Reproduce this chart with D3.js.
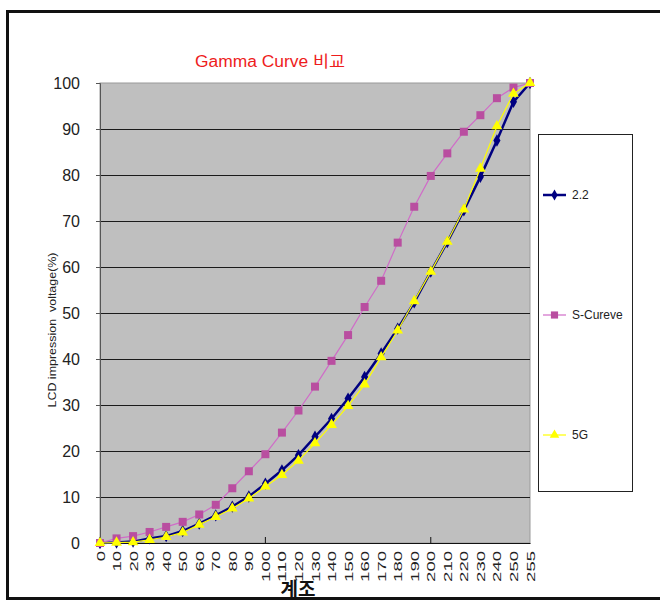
<!DOCTYPE html>
<html>
<head>
<meta charset="utf-8">
<script src="https://cdn.jsdelivr.net/npm/d3@7"></script>
<style>
    body { margin: 0; background: white; }
    svg { display: block; }
</style>
</head>
<body>
<div id="chart"></div>
<script>
//chart data
let categories = ['0', '10', '20', '30', '40', '50', '60', '70', '80', '90', '100', '110', '120', '130',
    '140', '150', '160', '170', '180', '190', '200', '210', '220', '230', '240', '250', '255'];
let gamma22 = [0, 0.1, 0.3, 1.0, 1.5, 2.6, 4.2, 6.0, 7.9, 10.1, 12.9, 15.8, 19.1, 23.1,
    27.0, 31.4, 36.1, 41.2, 46.6, 52.3, 59.0, 65.4, 72.3, 79.6, 87.5, 95.9, 100];
let sCurve = [0, 1.0, 1.5, 2.4, 3.5, 4.6, 6.2, 8.3, 11.9, 15.6, 19.3, 24.0, 28.8, 34.0,
    39.6, 45.2, 51.3, 57.0, 65.3, 73.1, 79.8, 84.7, 89.4, 93.0, 96.7, 99.0, 100];
let fiveG = [0, 0.1, 0.2, 0.7, 1.3, 2.3, 4.0, 5.7, 7.5, 9.7, 12.3, 14.8, 17.9, 21.7,
    25.7, 29.8, 34.5, 40.4, 46.2, 52.6, 59.0, 65.5, 72.5, 81.4, 90.6, 97.7, 100];
let seriesNames = ['2.2', 'S-Cureve', '5G'];
let yTicks = [0, 10, 20, 30, 40, 50, 60, 70, 80, 90, 100];
let xTickMarks = ['0', '100', '200'];

//chart constants
let totalWidth = 660;
let totalHeight = 602;
let plot = { left: 100, right: 530, top: 83, bottom: 543 };
let font = '"Liberation Sans", Arial, sans-serif';
let narrowFont = '"Liberation Sans Narrow", "Liberation Sans", Arial, sans-serif';
let krFont = '"Liberation Sans", "Noto Sans CJK KR", sans-serif';

let svg = d3.select('#chart')
    .append('svg')
    .attr('width', totalWidth)
    .attr('height', totalHeight);

//outer frame
svg.append('rect')
    .attr('x', 7.5)
    .attr('y', 11.5)
    .attr('width', 700)
    .attr('height', 587)
    .style('fill', 'white')
    .style('stroke', '#111')
    .style('stroke-width', 3);

let xScale = d3.scalePoint()
    .domain(categories)
    .range([plot.left, plot.right]);

let yScale = d3.scaleLinear()
    .domain([0, 100])
    .range([plot.bottom, plot.top]);

//plot background
svg.append('rect')
    .attr('x', plot.left)
    .attr('y', plot.top)
    .attr('width', plot.right - plot.left)
    .attr('height', plot.bottom - plot.top)
    .style('fill', '#bfbfbf')
    .style('stroke', '#9a9a9a')
    .style('stroke-width', 1);

//horizontal gridlines
svg.append('g')
    .selectAll('line')
    .data(yTicks.filter(d => d > 0 && d < 100))
    .enter()
    .append('line')
    .attr('x1', plot.left)
    .attr('x2', plot.right)
    .attr('y1', d => Math.round(yScale(d)) + 0.5)
    .attr('y2', d => Math.round(yScale(d)) + 0.5)
    .style('stroke', '#1a1a1a')
    .style('stroke-width', 1);

//y axis
let yAxis = d3.axisLeft(yScale)
    .tickValues(yTicks)
    .tickSize(4)
    .tickPadding(16);

let yAxisG = svg.append('g')
    .attr('transform', `translate(${plot.left}, 0)`)
    .call(yAxis);
yAxisG.select('.domain').style('stroke', '#555');
yAxisG.selectAll('.tick line').style('stroke', '#555');
yAxisG.selectAll('text')
    .style('font-family', narrowFont)
    .style('font-size', '16px')
    .style('fill', '#222');

//x axis: labels for every category, tick marks every 10th
let xAxis = d3.axisBottom(xScale)
    .tickSize(0)
    .tickPadding(0);

let xAxisG = svg.append('g')
    .attr('transform', `translate(0, ${plot.bottom})`)
    .call(xAxis);
xAxisG.select('.domain').style('stroke', '#111');
xAxisG.selectAll('text')
    .attr('transform', 'rotate(-90)')
    .attr('x', -8)
    .attr('y', 0)
    .attr('dy', '0.35em')
    .attr('textLength', d => d.length * 10.3)
    .attr('lengthAdjust', 'spacingAndGlyphs')
    .style('text-anchor', 'end')
    .style('font-family', font)
    .style('font-size', '11.5px')
    .style('fill', '#222');

svg.append('g')
    .selectAll('line')
    .data(xTickMarks)
    .enter()
    .append('line')
    .attr('x1', d => xScale(d))
    .attr('x2', d => xScale(d))
    .attr('y1', plot.bottom - 6)
    .attr('y2', plot.bottom)
    .style('stroke', '#111');

//series definitions
let series = [
    { name: seriesNames[0], values: gamma22, line: '#000080', width: 2.5, fill: '#000080',
      symbol: d3.symbolDiamond, size: 44 },
    { name: seriesNames[1], values: sCurve, line: '#d06cc8', width: 1.2, fill: '#b94ea0',
      symbol: d3.symbolSquare, size: 64 },
    { name: seriesNames[2], values: fiveG, line: '#ffff00', width: 1.2, fill: '#ffff00',
      symbol: d3.symbolTriangle, size: 50 }
];

let line = d3.line()
    .x((d, i) => xScale(categories[i]))
    .y(d => yScale(d));

series.forEach(function(s) {
    let g = svg.append('g');
    g.append('path')
        .datum(s.values)
        .attr('d', line)
        .style('fill', 'none')
        .style('stroke', s.line)
        .style('stroke-width', s.width);
    g.selectAll('path.marker')
        .data(s.values)
        .enter()
        .append('path')
        .attr('class', 'marker')
        .attr('transform', (d, i) => `translate(${xScale(categories[i])}, ${yScale(d)})`)
        .attr('d', d3.symbol().type(s.symbol).size(s.size))
        .style('fill', s.fill);
});

//title
svg.append('text')
    .attr('x', 270)
    .attr('y', 67)
    .attr('text-anchor', 'middle')
    .attr('textLength', 150)
    .attr('lengthAdjust', 'spacingAndGlyphs')
    .style('font-family', krFont)
    .style('font-size', '16px')
    .style('fill', '#ee1c1c')
    .text('Gamma Curve 비교');

//y axis title (double space kept as in the original)
svg.append('text')
    .attr('transform', 'translate(56, 330) rotate(-90)')
    .attr('text-anchor', 'middle')
    .attr('textLength', 155)
    .attr('lengthAdjust', 'spacingAndGlyphs')
    .style('white-space', 'pre')
    .style('font-family', font)
    .style('font-size', '11px')
    .style('fill', '#222')
    .text('LCD impression  voltage(%)');

//x axis title
svg.append('text')
    .attr('x', 298)
    .attr('y', 596)
    .attr('text-anchor', 'middle')
    .style('font-family', '"Noto Sans CJK KR", sans-serif')
    .style('font-size', '19px')
    .style('font-weight', 'bold')
    .style('fill', '#111')
    .text('계조');

//legend
svg.append('rect')
    .attr('x', 538.5)
    .attr('y', 134.5)
    .attr('width', 94)
    .attr('height', 357)
    .style('fill', 'white')
    .style('stroke', '#222')
    .style('stroke-width', 1);

let legendY = [195, 315, 435];

let legend = svg.selectAll('.legend')
    .data(series)
    .enter()
    .append('g')
    .attr('class', 'legend')
    .attr('transform', (d, i) => `translate(0, ${legendY[i]})`);

legend.append('line')
    .attr('x1', 543)
    .attr('x2', 566)
    .attr('y1', 0)
    .attr('y2', 0)
    .style('stroke', d => d.line)
    .style('stroke-width', d => d.width);

legend.append('path')
    .attr('transform', 'translate(554.5, 0)')
    .attr('d', d => d3.symbol().type(d.symbol).size(d.size * 0.8)())
    .style('fill', d => d.fill);

legend.append('text')
    .attr('x', 572)
    .attr('y', 0)
    .attr('dy', '0.35em')
    .style('font-family', font)
    .style('font-size', '12px')
    .style('fill', '#222')
    .text(d => d.name);
</script>
</body>
</html>
